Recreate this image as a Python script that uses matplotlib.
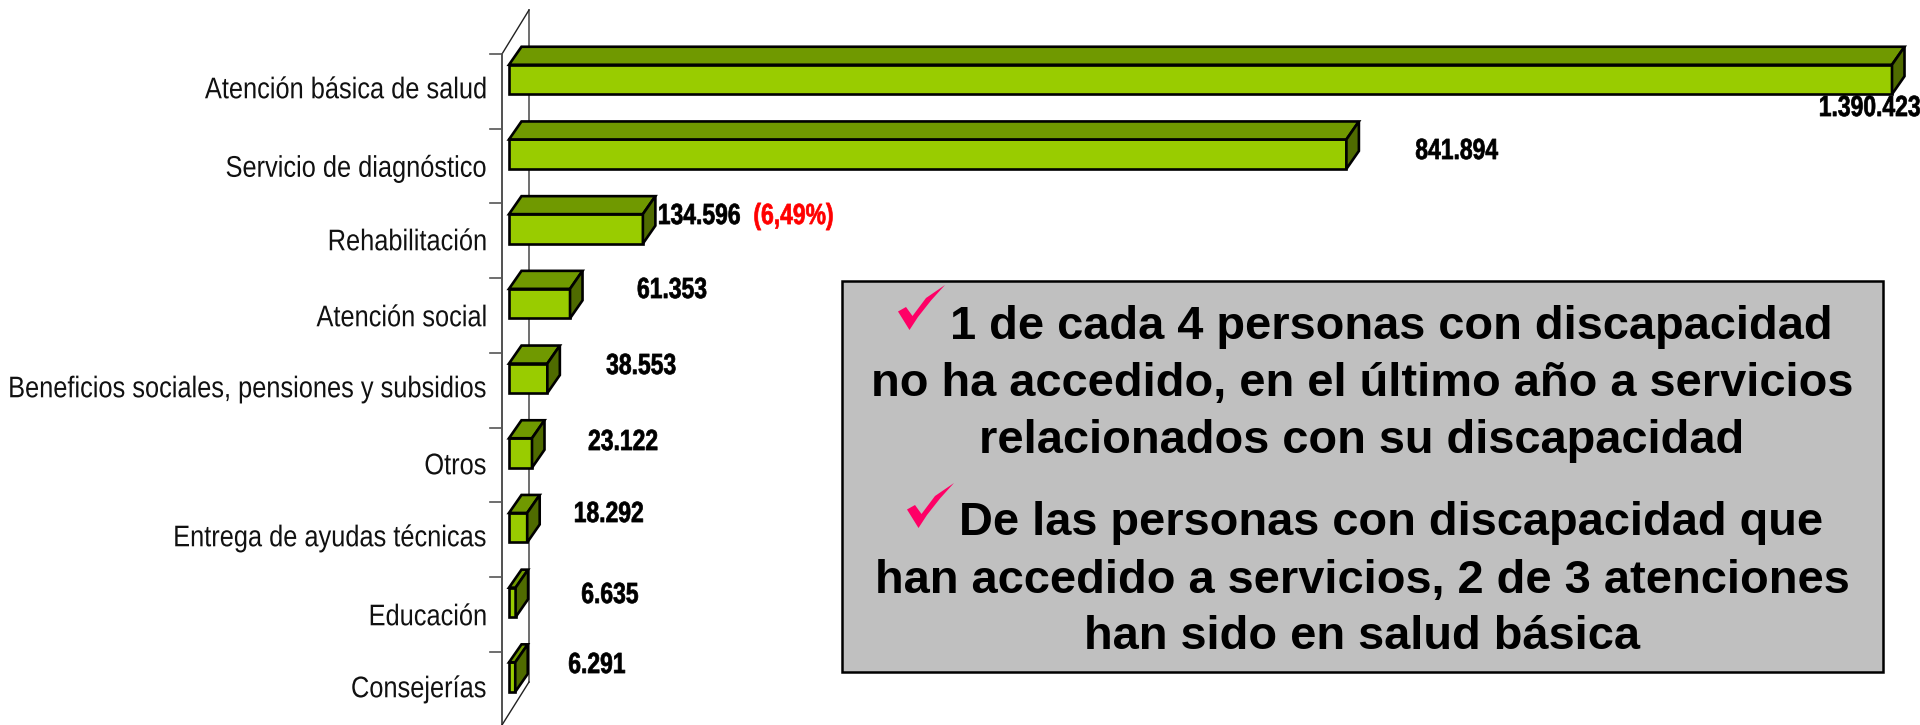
import matplotlib
matplotlib.use("Agg")
import matplotlib.pyplot as plt
from matplotlib.colors import to_rgba
from matplotlib.patches import Polygon, Rectangle
from matplotlib.text import Text
from matplotlib.textpath import TextPath
from matplotlib.transforms import Affine2D, Bbox

categories = ["Atención básica de salud", "Servicio de diagnóstico", "Rehabilitación",
              "Atención social", "Beneficios sociales, pensiones y subsidios", "Otros",
              "Entrega de ayudas técnicas", "Educación", "Consejerías"]
values = [1390423, 841894, 134596, 61353, 38553, 23122, 18292, 6635, 6291]
value_labels = ["1.390.423", "841.894", "134.596", "61.353", "38.553", "23.122", "18.292", "6.635", "6.291"]
share_label = "(6,49%)"
box_lines = ["1 de cada 4 personas con discapacidad",
             "no ha accedido, en el último año a servicios",
             "relacionados con su discapacidad",
             "De las personas con discapacidad que",
             "han accedido a servicios, 2 de 3 atenciones",
             "han sido en salud básica"]

# layout, pixels
W, H = 1920, 725
X0, XMAX_PX = 509, 1892
Y0, PITCH = 79.5, 74.7
BAR_H = 29.5
DX, DY = 12.5, 18
cat_y = [88, 166.5, 240, 316, 387, 464, 536, 615, 687]
val_x = [1870, 1457, 699.5, 672, 641, 623, 609, 610, 597]
val_y = [106, 149, 214, 288, 364, 440, 512, 593, 663]
box_y = [327, 384, 441, 523, 581, 637]
box_x = [1391, 1362, 1362, 1391, 1362, 1362]


class CondensedText(Text):
    """A text squeezed horizontally, like the narrowed Arial of the reference."""

    def __init__(self, *args, sx=0.8, stroke=0.0, **kwargs):
        super().__init__(*args, **kwargs)
        self._sx = sx
        self._stroke = stroke

    def get_window_extent(self, renderer=None, dpi=None):
        bb = super().get_window_extent(renderer, dpi)
        ha = self.get_ha()
        pivot = {"left": bb.x0, "right": bb.x1}.get(ha, (bb.x0 + bb.x1) / 2)
        return Bbox([[pivot + (bb.x0 - pivot) * self._sx, bb.y0],
                     [pivot + (bb.x1 - pivot) * self._sx, bb.y1]])

    def draw(self, renderer):
        if not self.get_visible() or not self.get_text():
            return
        fp = self.get_fontproperties()
        tp = TextPath((0, 0), self.get_text(), size=fp.get_size_in_points(), prop=fp)
        ext = tp.get_extents()
        ax_x = {"left": ext.x0, "right": ext.x1}.get(self.get_ha(), (ext.x0 + ext.x1) / 2)
        cap = TextPath((0, 0), "H", size=fp.get_size_in_points(), prop=fp).get_extents().y1
        scale = renderer.points_to_pixels(1.0)
        anchor = self.get_transform().transform(self.get_unitless_position())
        tr = (Affine2D().translate(-ax_x, -cap / 2)
              .scale(self._sx * scale, scale).translate(*anchor))
        gc = renderer.new_gc()
        rgba = to_rgba(self.get_color())
        gc.set_foreground(rgba)
        gc.set_linewidth(self._stroke)
        gc.set_antialiased(True)
        renderer.draw_path(gc, tp, tr, rgba)
        gc.restore()


fig = plt.figure(figsize=(W / 100, H / 100), dpi=100)
ax = fig.add_axes([0, 0, 1, 1])
k = values[0] / (XMAX_PX - X0)          # value units per pixel
u = 1 / PITCH                           # category units per pixel
ax.set_xlim(-X0 * k, (W - X0) * k)
ax.set_ylim((H - Y0) * u, -Y0 * u)
ax.axis("off")


def px(x):  # pixel x to data
    return (x - X0) * k


def py(y):  # pixel y to data
    return (y - Y0) * u


def ctext(x, y, s, sx, **kw):
    t = CondensedText(x, y, s, sx=sx, ha=kw.pop("ha", "center"), va="center",
                      family="Liberation Sans", zorder=5, **kw)
    t.set_transform(ax.transData)
    ax.add_artist(t)
    return t


# wall
ax.plot([px(529)] * 2, [py(10), py(682)], color="#555555", lw=1.2, zorder=1)
ax.plot([px(502)] * 2, [py(54), py(725)], color="#222222", lw=1.1, zorder=1)
ax.plot([px(502), px(529)], [py(54), py(10)], color="#222222", lw=1.0, zorder=1)
ax.plot([px(502), px(529)], [py(725), py(682)], color="#222222", lw=1.0, zorder=1)
for i in range(len(categories) + 1):
    yy = py(54 + i * PITCH)
    ax.plot([px(490), px(502)], [yy, yy], color="#555555", lw=1.2, zorder=1)

# bars
ys = list(range(len(values)))
dx, dy = DX * k, DY * u
hh = BAR_H * u / 2
ec = dict(edgecolor="black", linewidth=1.9, joinstyle="miter")
ax.barh(ys, values, height=BAR_H * u, color="#99CC00", zorder=3, **ec)
for y, v in zip(ys, values):
    t, b = y - hh, y + hh
    ax.add_patch(Polygon([(0, t), (dx, t - dy), (v + dx, t - dy), (v, t)],
                         facecolor="#709900", zorder=3, **ec))
    ax.add_patch(Polygon([(v, t), (v + dx, t - dy), (v + dx, b - dy), (v, b)],
                         facecolor="#4F6B00", zorder=3, **ec))

# category labels
for name, y in zip(categories, cat_y):
    ctext(px(485.5), py(y), name, 0.85, ha="right", fontsize=21.5, color="#111111")
# value labels
for lab, x, y in zip(value_labels, val_x, val_y):
    ctext(px(x), py(y), lab, 0.785, stroke=0.5, fontweight="bold", fontsize=21, color="black")
ctext(px(793.5), py(214), share_label, 0.785, stroke=0.5, fontweight="bold", fontsize=21,
      color="#FF0000")

# box
ax.add_patch(Rectangle((px(842), py(281)), (1883 - 842) * k, (672 - 281) * u,
                       facecolor="#C0C0C0", edgecolor="black", linewidth=1.8, zorder=4))
for line, x, y in zip(box_lines, box_x, box_y):
    ax.text(px(x), py(y), line, ha="center", va="center", family="Liberation Sans",
            fontweight="bold", fontsize=33.8, color="black", zorder=5)

# check marks
check = [(898, 311.5), (906, 307), (912.5, 316), (926, 298), (945, 285),
         (931, 300.5), (918, 317), (909.5, 330)]
for ox, oy in [(0, 0), (9, 198)]:
    ax.add_patch(Polygon([(px(a + ox), py(b + oy)) for a, b in check],
                         facecolor="#FF0066", edgecolor="none", zorder=5))

fig.savefig("out.png", dpi=100)
